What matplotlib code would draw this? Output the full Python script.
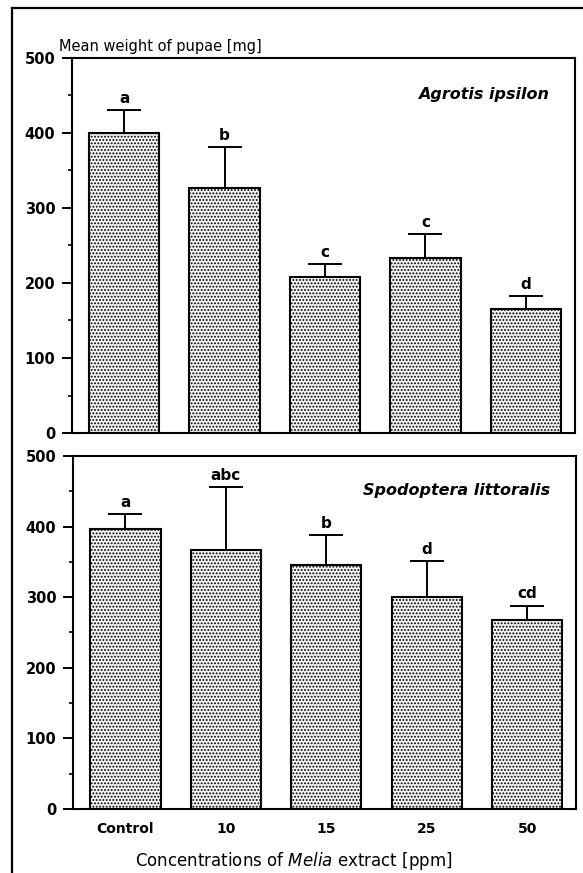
import matplotlib
matplotlib.use("Agg")
import matplotlib.pyplot as plt
from matplotlib.lines import Line2D
from matplotlib.ticker import MultipleLocator

plt.rcParams['font.family'] = ['DejaVu Sans']
plt.rcParams['mathtext.fontset'] = 'dejavusans'
plt.rcParams['hatch.color'] = '#6a6a6a'
plt.rcParams['hatch.linewidth'] = 0.9

categories = ["Control", "10", "15", "25", "50"]

agrotis_mean = [400, 326, 208, 233, 165]
agrotis_err = [30, 55, 17, 32, 18]
agrotis_letters = ["a", "b", "c", "c", "d"]

spodoptera_mean = [397, 367, 345, 300, 267]
spodoptera_err = [21, 89, 43, 51, 21]
spodoptera_letters = ["a", "abc", "b", "d", "cd"]

yticks = [0, 100, 200, 300, 400, 500]

fig = plt.figure(figsize=(5.83, 8.73), dpi=100)
ax1 = fig.add_axes([0.1235, 0.504, 0.863, 0.4296])
ax2 = fig.add_axes([0.1255, 0.0733, 0.863, 0.4044])

x = list(range(len(categories)))


def draw(ax, means, errs, letters, species):
    ax.bar(x, means, width=0.7, facecolor='#f4f4f4', edgecolor='black',
           linewidth=1.5, hatch='.....', zorder=2)
    ax.errorbar(x, means, yerr=[[0] * len(errs), errs], fmt='none',
                ecolor='black', elinewidth=1.4, capsize=12.5, capthick=1.4,
                zorder=3)
    for xi, m, e, l in zip(x, means, errs, letters):
        ax.annotate(l, (xi, m + e), xytext=(0, 3), textcoords='offset points',
                    ha='center', va='bottom', fontsize=11, fontweight='bold')
    ax.set_xlim(-0.52, 4.49)
    ax.set_ylim(0, 500)
    ax.set_yticks(yticks)
    ax.yaxis.set_minor_locator(MultipleLocator(50))
    ax.tick_params(axis='y', which='major', length=7, width=1.4, direction='out',
                   labelsize=10.5, pad=5)
    ax.tick_params(axis='y', which='minor', length=3, width=1.2, direction='out')
    for lab in ax.get_yticklabels():
        lab.set_fontweight('bold')
    for s in ax.spines.values():
        s.set_linewidth(1.5)
    ax.text(0.948, 0.902, species, transform=ax.transAxes, ha='right',
            va='center', fontsize=11.5, style='italic', fontweight='bold')


draw(ax1, agrotis_mean, agrotis_err, agrotis_letters, "Agrotis ipsilon")
draw(ax2, spodoptera_mean, spodoptera_err, spodoptera_letters,
     "Spodoptera littoralis")

ax1.set_xticks([])
ax2.set_xticks(x)
ax2.set_xticklabels(categories, fontsize=10, fontweight='bold')
ax2.tick_params(axis='x', length=0, pad=9)

fig.text(59 / 583, 1 - 46 / 873, "Mean weight of pupae [mg]", ha='left',
         va='center', fontsize=10.5)
fig.text(294 / 583, 1 - 861 / 873,
         r"Concentrations of $\mathit{Melia}$ extract [ppm]",
         ha='center', va='center', fontsize=12)

# outer frame lines (left and top)
fig.add_artist(Line2D([12 / 583, 12 / 583], [0, 1 - 8 / 873],
                      transform=fig.transFigure, color='black', lw=1.6))
fig.add_artist(Line2D([12 / 583, 1], [1 - 8 / 873, 1 - 8 / 873],
                      transform=fig.transFigure, color='black', lw=1.6))

fig.savefig("out.png", dpi=100)
